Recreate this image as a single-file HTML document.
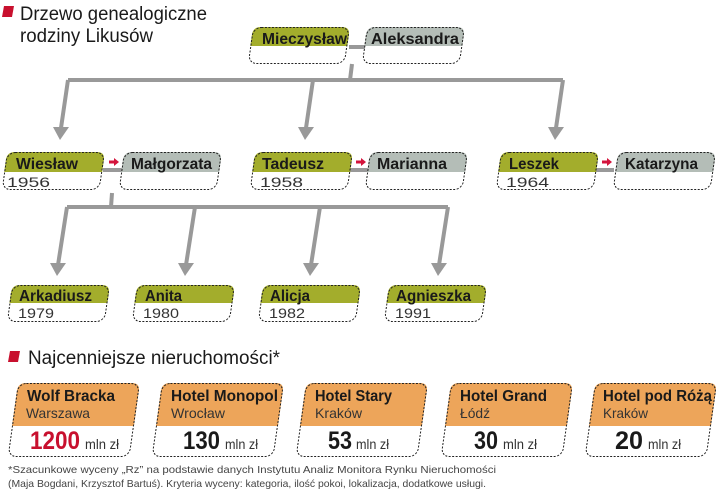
<!DOCTYPE html>
<html><head><meta charset="utf-8"><style>
html,body{margin:0;padding:0;background:#fff;width:720px;height:491px;overflow:hidden}
svg{display:block}
text{font-family:"Liberation Sans",sans-serif}
.n{font-weight:bold;font-size:16px;fill:#1a1a1a}
.y{font-size:14px;fill:#333}
.t{font-size:19px;fill:#1a1a1a}
.dash{fill:none;stroke:#222;stroke-width:1;stroke-dasharray:2 1.5}
.ln{stroke:#999;stroke-width:4;fill:none}
.f{font-size:10.5px;fill:#444}
</style></head><body>
<svg width="720" height="491" viewBox="0 0 720 491" xmlns="http://www.w3.org/2000/svg">
<path d="M4,6 L14,6 L12,17 L2,17 Z" fill="#c8102e"/>
<text class="t" x="20" y="20" textLength="187" lengthAdjust="spacingAndGlyphs">Drzewo genealogiczne</text>
<text class="t" x="20" y="42" textLength="133" lengthAdjust="spacingAndGlyphs">rodziny Likusów</text>

<path class="ln" d="M352,64 L350,80"/>
<path class="ln" d="M68,80 L563,80"/>
<path class="ln" d="M68,80 L61,128"/>
<path class="ln" d="M313,80 L306,128"/>
<path class="ln" d="M563,80 L556,128"/>
<path d="M53,127 L69,127 L60,140 Z" fill="#999"/>
<path d="M298,127 L314,127 L305,140 Z" fill="#999"/>
<path d="M548,127 L564,127 L555,140 Z" fill="#999"/>
<path class="ln" d="M112,193 L111,207"/>
<path class="ln" d="M67,207 L448,207"/>
<path class="ln" d="M67,207 L58,265"/>
<path class="ln" d="M195,207 L186,265"/>
<path class="ln" d="M320,207 L311,265"/>
<path class="ln" d="M448,207 L439,265"/>
<path d="M50,263 L66,263 L57,276 Z" fill="#999"/>
<path d="M178,263 L194,263 L185,276 Z" fill="#999"/>
<path d="M303,263 L319,263 L310,276 Z" fill="#999"/>
<path d="M431,263 L447,263 L438,276 Z" fill="#999"/>
<path d="M349,47 L365,47" stroke="#999" stroke-width="4"/>
<path d="M103,170 L122,170" stroke="#999" stroke-width="4"/>
<path d="M350,170 L369,170" stroke="#999" stroke-width="4"/>
<path d="M595,170 L614,170" stroke="#999" stroke-width="4"/>
<g fill="#d4143c">
<path d="M109,160.5 L114,160.5 L114,158 L119,162 L114,166 L114,163.5 L109,163.5 Z"/>
<path d="M356,160.5 L361,160.5 L361,158 L366,162 L361,166 L361,163.5 L356,163.5 Z"/>
<path d="M602,160.5 L607,160.5 L607,158 L612,162 L607,166 L607,163.5 L602,163.5 Z"/>
</g>

<g transform="translate(253,27) skewX(-8)"><path d="M0,19 V8 Q0,0 8,0 H89 Q97,0 97,8 V19 Z" fill="#a3ad2c"/><rect class="dash" x="0.5" y="0.5" width="96" height="36" rx="8"/></g>
<text class="n" x="262" y="44" textLength="85" lengthAdjust="spacingAndGlyphs">Mieczysław</text>
<g transform="translate(367,27) skewX(-8)"><path d="M0,19 V8 Q0,0 8,0 H90 Q98,0 98,8 V19 Z" fill="#b4bdb7"/><rect class="dash" x="0.5" y="0.5" width="97" height="36" rx="8"/></g>
<text class="n" x="371" y="44" textLength="88" lengthAdjust="spacingAndGlyphs">Aleksandra</text>

<g transform="translate(7,152) skewX(-8)"><path d="M0,20 V8 Q0,0 8,0 H90 Q98,0 98,8 V20 Z" fill="#a3ad2c"/><rect class="dash" x="0.5" y="0.5" width="97" height="37" rx="8"/></g>
<text class="n" x="16" y="169" textLength="62" lengthAdjust="spacingAndGlyphs">Wiesław</text><text class="y" x="7" y="187" textLength="43" lengthAdjust="spacingAndGlyphs">1956</text>
<g transform="translate(124,152) skewX(-8)"><path d="M0,20 V8 Q0,0 8,0 H90 Q98,0 98,8 V20 Z" fill="#b4bdb7"/><rect class="dash" x="0.5" y="0.5" width="97" height="37" rx="8"/></g>
<text class="n" x="131" y="169" textLength="81" lengthAdjust="spacingAndGlyphs">Małgorzata</text>

<g transform="translate(255,152) skewX(-8)"><path d="M0,20 V8 Q0,0 8,0 H90 Q98,0 98,8 V20 Z" fill="#a3ad2c"/><rect class="dash" x="0.5" y="0.5" width="97" height="37" rx="8"/></g>
<text class="n" x="262" y="169" textLength="62" lengthAdjust="spacingAndGlyphs">Tadeusz</text><text class="y" x="260" y="187" textLength="43" lengthAdjust="spacingAndGlyphs">1958</text>
<g transform="translate(370,152) skewX(-8)"><path d="M0,20 V8 Q0,0 8,0 H90 Q98,0 98,8 V20 Z" fill="#b4bdb7"/><rect class="dash" x="0.5" y="0.5" width="97" height="37" rx="8"/></g>
<text class="n" x="377" y="169" textLength="70" lengthAdjust="spacingAndGlyphs">Marianna</text>

<g transform="translate(501,152) skewX(-8)"><path d="M0,20 V8 Q0,0 8,0 H90 Q98,0 98,8 V20 Z" fill="#a3ad2c"/><rect class="dash" x="0.5" y="0.5" width="97" height="37" rx="8"/></g>
<text class="n" x="509" y="169" textLength="50" lengthAdjust="spacingAndGlyphs">Leszek</text><text class="y" x="506" y="187" textLength="43" lengthAdjust="spacingAndGlyphs">1964</text>
<g transform="translate(618,152) skewX(-8)"><path d="M0,20 V8 Q0,0 8,0 H90 Q98,0 98,8 V20 Z" fill="#b4bdb7"/><rect class="dash" x="0.5" y="0.5" width="97" height="37" rx="8"/></g>
<text class="n" x="625" y="169" textLength="73" lengthAdjust="spacingAndGlyphs">Katarzyna</text>

<g transform="translate(12,285) skewX(-8)"><path d="M0,18 V8 Q0,0 8,0 H90 Q98,0 98,8 V18 Z" fill="#a3ad2c"/><rect class="dash" x="0.5" y="0.5" width="97" height="36" rx="8"/></g>
<text class="n" x="19" y="301" textLength="73" lengthAdjust="spacingAndGlyphs">Arkadiusz</text><text class="y" x="18" y="318" textLength="36" lengthAdjust="spacingAndGlyphs">1979</text>
<g transform="translate(137,285) skewX(-8)"><path d="M0,18 V8 Q0,0 8,0 H90 Q98,0 98,8 V18 Z" fill="#a3ad2c"/><rect class="dash" x="0.5" y="0.5" width="97" height="36" rx="8"/></g>
<text class="n" x="145" y="301" textLength="37" lengthAdjust="spacingAndGlyphs">Anita</text><text class="y" x="143" y="318" textLength="36" lengthAdjust="spacingAndGlyphs">1980</text>
<g transform="translate(263,285) skewX(-8)"><path d="M0,18 V8 Q0,0 8,0 H90 Q98,0 98,8 V18 Z" fill="#a3ad2c"/><rect class="dash" x="0.5" y="0.5" width="97" height="36" rx="8"/></g>
<text class="n" x="270" y="301" textLength="40" lengthAdjust="spacingAndGlyphs">Alicja</text><text class="y" x="269" y="318" textLength="36" lengthAdjust="spacingAndGlyphs">1982</text>
<g transform="translate(389,285) skewX(-8)"><path d="M0,18 V8 Q0,0 8,0 H90 Q98,0 98,8 V18 Z" fill="#a3ad2c"/><rect class="dash" x="0.5" y="0.5" width="97" height="36" rx="8"/></g>
<text class="n" x="396" y="301" textLength="75" lengthAdjust="spacingAndGlyphs">Agnieszka</text><text class="y" x="395" y="318" textLength="36" lengthAdjust="spacingAndGlyphs">1991</text>

<path d="M10,351 L20,351 L18,362 L8,362 Z" fill="#c8102e"/>
<text class="t" x="28" y="364" textLength="252" lengthAdjust="spacingAndGlyphs">Najcenniejsze nieruchomości*</text>

<g transform="translate(18,383) skewX(-8)"><path d="M0,43 V8 Q0,0 8,0 H114 Q122,0 122,8 V43 Z" fill="#eda55a"/><rect class="dash" x="0.5" y="0.5" width="121" height="73" rx="8"/></g>
<text class="n" x="27" y="401" font-size="17" textLength="88" lengthAdjust="spacingAndGlyphs">Wolf Bracka</text><text class="y" x="26" y="418" font-size="15" textLength="64" lengthAdjust="spacingAndGlyphs">Warszawa</text>
<text x="30" y="449" font-size="25" font-weight="bold" fill="#c8102e" textLength="50" lengthAdjust="spacingAndGlyphs">1200</text><text class="y" x="85" y="449" textLength="34" lengthAdjust="spacingAndGlyphs">mln zł</text>

<g transform="translate(162,383) skewX(-8)"><path d="M0,43 V8 Q0,0 8,0 H114 Q122,0 122,8 V43 Z" fill="#eda55a"/><rect class="dash" x="0.5" y="0.5" width="121" height="73" rx="8"/></g>
<text class="n" x="171" y="401" font-size="17" textLength="107" lengthAdjust="spacingAndGlyphs">Hotel Monopol</text><text class="y" x="171" y="418" font-size="15" textLength="54" lengthAdjust="spacingAndGlyphs">Wrocław</text>
<text x="183" y="449" font-size="25" font-weight="bold" fill="#1a1a1a" textLength="37" lengthAdjust="spacingAndGlyphs">130</text><text class="y" x="225" y="449" textLength="33" lengthAdjust="spacingAndGlyphs">mln zł</text>

<g transform="translate(306,383) skewX(-8)"><path d="M0,43 V8 Q0,0 8,0 H114 Q122,0 122,8 V43 Z" fill="#eda55a"/><rect class="dash" x="0.5" y="0.5" width="121" height="73" rx="8"/></g>
<text class="n" x="315" y="401" font-size="17" textLength="77" lengthAdjust="spacingAndGlyphs">Hotel Stary</text><text class="y" x="315" y="418" font-size="15" textLength="47" lengthAdjust="spacingAndGlyphs">Kraków</text>
<text x="328" y="449" font-size="25" font-weight="bold" fill="#1a1a1a" textLength="24" lengthAdjust="spacingAndGlyphs">53</text><text class="y" x="356" y="449" textLength="33" lengthAdjust="spacingAndGlyphs">mln zł</text>

<g transform="translate(451,383) skewX(-8)"><path d="M0,43 V8 Q0,0 8,0 H114 Q122,0 122,8 V43 Z" fill="#eda55a"/><rect class="dash" x="0.5" y="0.5" width="121" height="73" rx="8"/></g>
<text class="n" x="460" y="401" font-size="17" textLength="87" lengthAdjust="spacingAndGlyphs">Hotel Grand</text><text class="y" x="460" y="418" font-size="15" textLength="30" lengthAdjust="spacingAndGlyphs">Łódź</text>
<text x="474" y="449" font-size="25" font-weight="bold" fill="#1a1a1a" textLength="24" lengthAdjust="spacingAndGlyphs">30</text><text class="y" x="503" y="449" textLength="34" lengthAdjust="spacingAndGlyphs">mln zł</text>

<g transform="translate(595,383) skewX(-8)"><path d="M0,43 V8 Q0,0 8,0 H114 Q122,0 122,8 V43 Z" fill="#eda55a"/><rect class="dash" x="0.5" y="0.5" width="121" height="73" rx="8"/></g>
<text class="n" x="603" y="401" font-size="17" textLength="109" lengthAdjust="spacingAndGlyphs">Hotel pod Różą</text><text class="y" x="603" y="418" font-size="15" textLength="45" lengthAdjust="spacingAndGlyphs">Kraków</text>
<text x="615" y="449" font-size="25" font-weight="bold" fill="#1a1a1a" textLength="28" lengthAdjust="spacingAndGlyphs">20</text><text class="y" x="648" y="449" textLength="33" lengthAdjust="spacingAndGlyphs">mln zł</text>

<text class="f" x="8" y="473" textLength="488" lengthAdjust="spacingAndGlyphs">*Szacunkowe wyceny „Rz” na podstawie danych Instytutu Analiz Monitora Rynku Nieruchomości</text>
<text class="f" x="8" y="487" textLength="478" lengthAdjust="spacingAndGlyphs">(Maja Bogdani, Krzysztof Bartuś). Kryteria wyceny: kategoria, ilość pokoi, lokalizacja, dodatkowe usługi.</text>
</svg>
</body></html>
